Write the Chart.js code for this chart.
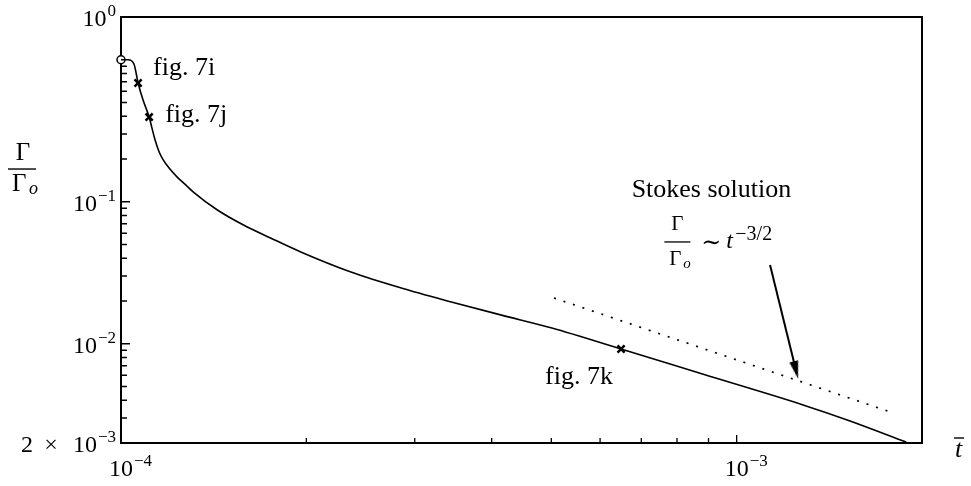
<!DOCTYPE html>
<html lang="en">
<head>
    <meta charset="UTF-8">
    <title>Circulation decay</title>
    <script src="https://cdn.jsdelivr.net/npm/chart.js"></script>
    <style>
        body { margin: 0; background: #fff; }
    </style>
</head>
<body>
    <canvas id="myChart" width="971" height="486"></canvas>

    <script>
        // Circulation ratio Gamma/Gamma_o against time
        const tCurve = [1.0e-4, 1.027e-4, 1.05e-4, 1.066e-4, 1.086e-4, 1.111e-4, 1.122e-4, 1.136e-4, 1.153e-4,
                        1.171e-4, 1.198e-4, 1.234e-4, 1.27e-4, 1.311e-4, 1.434e-4, 1.581e-4, 1.749e-4,
                        1.959e-4, 2.363e-4, 2.851e-4, 3.44e-4, 4.15e-4, 5.01e-4, 6.49e-4, 8.8e-4,
                        1.282e-3, 1.528e-3, 1.885e-3];
        const gCurve = [1.0, 1.0, 0.93, 0.686, 0.52, 0.395, 0.334, 0.272, 0.225,
                        0.197, 0.172, 0.149, 0.133, 0.117, 0.0875, 0.0686, 0.0556,
                        0.0443, 0.0320, 0.0247, 0.0197, 0.0159, 0.0129, 0.00918, 0.00612,
                        0.00371, 0.00286, 0.00203];

        // marked states (figs 7i, 7j, 7k) and the starting point
        const figLabels = ['fig. 7i', 'fig. 7j', 'fig. 7k'];
        const tFigs = [1.066e-4, 1.111e-4, 6.49e-4];
        const gFigs = [0.686, 0.395, 0.00918];
        const tStart = [1.0e-4];
        const gStart = [1.0];

        // Stokes solution ~ t^-3/2
        const tStokes = [5.05e-4, 1.78e-3];
        const gStokes = [0.021, 0.0033];

        // arrow pointing at the Stokes line
        const tArrow = [1.133e-3, 1.248e-3];
        const gArrow = [0.0358, 0.00653];

        // axis ticks
        const xMinorTicks = [2e-4, 3e-4, 4e-4, 5e-4, 6e-4, 7e-4, 8e-4, 9e-4];
        const xMajorTicks = [1e-3];
        const xLabelValues = [1e-4, 1e-3];
        const xLabelText = [['10', '−4'], ['10', '−3']];
        const yMinorTicks = [3e-3, 4e-3, 5e-3, 6e-3, 7e-3, 8e-3, 9e-3,
                             2e-2, 3e-2, 4e-2, 5e-2, 6e-2, 7e-2, 8e-2, 9e-2,
                             0.2, 0.3, 0.4, 0.5, 0.6, 0.7, 0.8, 0.9];
        const yMajorTicks = [1e-2, 1e-1];
        const yLabelValues = [2, 0.1, 0.01, 0.002];
        const yLabelText = [['10', '0'], ['10', '−1'], ['10', '−2'], ['2 × 10', '−3']];

        const pts = (xs, ys) => xs.map((x, i) => ({ x: x, y: ys[i] }));
        const SERIF = '"Liberation Serif", "DejaVu Serif", serif';

        // narrow filled arrow head, pointing up before rotation
        const head = document.createElement('canvas');
        head.width = 9; head.height = 18;
        const hc = head.getContext('2d');
        hc.fillStyle = '#000';
        hc.beginPath();
        hc.moveTo(4.5, 0); hc.lineTo(9, 18); hc.lineTo(0, 18); hc.closePath();
        hc.fill();

        const decorations = {
            id: 'decorations',
            beforeDatasetsDraw(chart) {
                const ctx = chart.ctx;
                const xs = chart.scales.x, ys = chart.scales.y;
                const a = chart.chartArea;
                ctx.save();
                ctx.strokeStyle = '#000';

                // frame
                ctx.lineWidth = 2;
                ctx.strokeRect(a.left, a.top, a.right - a.left, a.bottom - a.top);

                // inward tick marks
                ctx.lineWidth = 1.3;
                ctx.beginPath();
                yMinorTicks.forEach(v => { const p = ys.getPixelForValue(v); ctx.moveTo(a.left, p); ctx.lineTo(a.left + 6, p); });
                yMajorTicks.forEach(v => { const p = ys.getPixelForValue(v); ctx.moveTo(a.left, p); ctx.lineTo(a.left + 9, p); });
                xMinorTicks.forEach(v => { const p = xs.getPixelForValue(v); ctx.moveTo(p, a.bottom); ctx.lineTo(p, a.bottom - 5); });
                xMajorTicks.forEach(v => { const p = xs.getPixelForValue(v); ctx.moveTo(p, a.bottom); ctx.lineTo(p, a.bottom - 8); });
                ctx.stroke();
                ctx.restore();
            },
            afterDraw(chart) {
                const ctx = chart.ctx;
                const xs = chart.scales.x, ys = chart.scales.y;
                const a = chart.chartArea;
                ctx.save();
                ctx.strokeStyle = '#000';
                ctx.fillStyle = '#000';

                const main = '24px ' + SERIF, small = '17px ' + SERIF;
                ctx.textBaseline = 'alphabetic';
                ctx.textAlign = 'left';

                // y tick labels (mantissa part spaced out like the original)
                yLabelValues.forEach((v, i) => {
                    const p = ys.getPixelForValue(v);
                    ctx.font = small;
                    const sw = ctx.measureText(yLabelText[i][1]).width;
                    const right = a.left - 5;
                    ctx.fillText(yLabelText[i][1], right - sw, p - 1);
                    ctx.font = main;
                    const parts = yLabelText[i][0].split(' × ');
                    const base = parts[parts.length - 1];
                    const bx = right - sw - ctx.measureText(base).width - 1;
                    ctx.fillText(base, bx, p + 9);
                    if (parts.length > 1) {
                        ctx.textAlign = 'center';
                        ctx.fillText('×', bx - 22, p + 9);
                        ctx.textAlign = 'right';
                        ctx.fillText(parts[0], bx - 40, p + 9);
                        ctx.textAlign = 'left';
                    }
                });

                // x tick labels
                xLabelValues.forEach((v, i) => {
                    const p = xs.getPixelForValue(v);
                    ctx.font = main;
                    const mw = ctx.measureText(xLabelText[i][0]).width;
                    ctx.fillText(xLabelText[i][0], p - mw / 2, a.bottom + 33);
                    ctx.font = small;
                    ctx.fillText(xLabelText[i][1], p + mw / 2 + 1, a.bottom + 23);
                });

                // fig labels next to the markers
                const offs = [[15, -8], [16, 5], [-76, 35]];
                ctx.font = '26px ' + SERIF;
                figLabels.forEach((s, i) => {
                    const px = xs.getPixelForValue(tFigs[i]), py = ys.getPixelForValue(gFigs[i]);
                    ctx.fillText(s, px + offs[i][0], py + offs[i][1]);
                });

                // y axis title: Gamma / Gamma_o
                const yt = ys.getPixelForValue(0.17);
                ctx.font = '25px ' + SERIF;
                ctx.textAlign = 'center';
                ctx.fillText('Γ', 23, yt - 9);
                ctx.lineWidth = 1.4;
                ctx.beginPath(); ctx.moveTo(8, yt); ctx.lineTo(36, yt); ctx.stroke();
                ctx.textAlign = 'left';
                ctx.fillText('Γ', 12, yt + 22);
                ctx.font = 'italic 18px ' + SERIF;
                ctx.fillText('o', 12 + 17, yt + 25);

                // x axis title: t bar
                ctx.font = 'italic 26px ' + SERIF;
                const tx = a.right + 33, tb = a.bottom + 14;
                ctx.fillText('t', tx, tb);
                ctx.lineWidth = 1.4;
                ctx.beginPath(); ctx.moveTo(tx - 1, tb - 19); ctx.lineTo(tx + 9, tb - 19); ctx.stroke();

                // Stokes annotation
                const sx = xs.getPixelForValue(9.1e-4), sy = ys.getPixelForValue(0.108);
                ctx.font = '26px ' + SERIF;
                ctx.textAlign = 'center';
                ctx.fillText('Stokes solution', sx, sy);

                const fx = xs.getPixelForValue(8.01e-4), fy = ys.getPixelForValue(0.0521);
                ctx.font = '21px ' + SERIF;
                ctx.fillText('Γ', fx, fy - 12);
                ctx.lineWidth = 1.3;
                ctx.beginPath(); ctx.moveTo(fx - 13, fy); ctx.lineTo(fx + 13, fy); ctx.stroke();
                ctx.textAlign = 'left';
                ctx.fillText('Γ', fx - 8, fy + 23);
                ctx.font = 'italic 15px ' + SERIF;
                ctx.fillText('o', fx + 6, fy + 26);
                ctx.font = '24px ' + SERIF;
                ctx.fillText('∼', fx + 24, fy + 8);
                ctx.font = 'italic 24px ' + SERIF;
                ctx.fillText('t', fx + 49, fy + 6);
                ctx.font = '20px ' + SERIF;
                ctx.fillText('−3/2', fx + 58, fy - 2);

                ctx.restore();
            }
        };

        const config = {
            type: 'line',
            data: {
                datasets: [
                    {
                        label: 'Gamma/Gamma_o',
                        data: pts(tCurve, gCurve),
                        borderColor: '#000',
                        borderWidth: 1.6,
                        pointRadius: 0,
                        cubicInterpolationMode: 'monotone'
                    },
                    {
                        label: 'figs',
                        data: pts(tFigs, gFigs),
                        showLine: false,
                        pointStyle: 'crossRot',
                        pointRadius: 5,
                        borderColor: '#000',
                        borderWidth: 2.5,
                        clip: false
                    },
                    {
                        label: 'start',
                        data: pts(tStart, gStart),
                        showLine: false,
                        pointStyle: 'circle',
                        pointRadius: 4,
                        borderColor: '#000',
                        backgroundColor: '#fff',
                        borderWidth: 1.5,
                        clip: false
                    },
                    {
                        label: 'Stokes solution',
                        data: pts(tStokes, gStokes),
                        borderColor: '#000',
                        borderWidth: 1.7,
                        borderDash: [2, 8],
                        pointRadius: 0
                    },
                    {
                        label: 'arrow',
                        data: pts(tArrow, gArrow),
                        borderColor: '#000',
                        borderWidth: 2,
                        pointRadius: [0, 9],
                        pointStyle: [false, head],
                        rotation: 166
                    }
                ]
            },
            options: {
                responsive: false,
                animation: false,
                layout: { padding: { left: 0, top: 17, right: 49, bottom: 0 } },
                plugins: { legend: { display: false }, tooltip: { enabled: false } },
                scales: {
                    x: {
                        type: 'logarithmic',
                        min: 1e-4,
                        max: 2e-3,
                        ticks: { display: false },
                        grid: { display: false },
                        border: { display: false },
                        afterFit: s => { s.height = 43; }
                    },
                    y: {
                        type: 'logarithmic',
                        min: 0.002,
                        max: 2,
                        ticks: { display: false },
                        grid: { display: false },
                        border: { display: false },
                        afterFit: s => { s.width = 121; }
                    }
                }
            },
            plugins: [decorations]
        };

        var myChart = new Chart(document.getElementById('myChart'), config);
    </script>
</body>
</html>
